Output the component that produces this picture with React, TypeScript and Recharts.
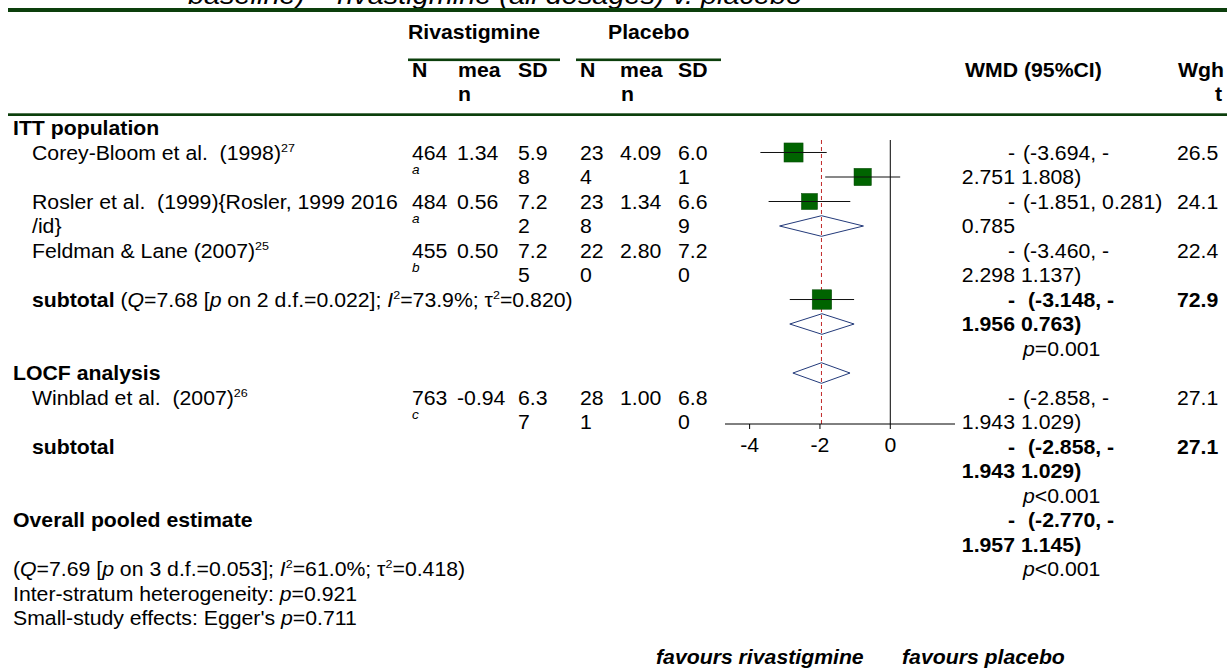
import React from "react";
import { ScatterChart, Scatter, XAxis, YAxis, ReferenceLine } from "recharts";

// ---- data ----
const studyNames = ["Corey-Bloom et al.  (1998)", "Rosler et al.  (1999){Rosler, 1999 2016", "Feldman & Lane (2007)", "Winblad et al.  (2007)"];
const studyRefs = ["27", "", "25", "26"];
const studyNameWrap = ["", "/id}", "", ""];
const footnotes = ["a", "a", "b", "c"];

const rivN = [464, 484, 455, 763];
const rivMean = [1.34, 0.56, 0.5, -0.94];
const rivSD = [5.98, 7.22, 7.25, 6.37];
const placN = [234, 238, 220, 281];
const placMean = [4.09, 1.34, 2.8, 1.0];
const placSD = [6.01, 6.69, 7.2, 6.8];

const wmd = [-2.751, -0.785, -2.298, -1.943];
const ciLow = [-3.694, -1.851, -3.46, -2.858];
const ciHigh = [-1.808, 0.281, -1.137, -1.029];
const weights = [26.5, 24.1, 22.4, 27.1];

// pooled: ITT subtotal, LOCF subtotal, overall
const pooledWmd = [-1.956, -1.943, -1.957];
const pooledLow = [-3.148, -2.858, -2.77];
const pooledHigh = [-0.763, -1.029, -1.145];
const pooledWeight = ["72.9", "27.1", ""];
const pooledP = ["=0.001", "<0.001", "<0.001"];

const hetQ = ["7.68", "7.69"];
const hetDf = ["2", "3"];
const hetP = ["0.022", "0.053"];
const hetI2 = ["73.9", "61.0"];
const hetTau2 = ["0.820", "0.418"];

const xTicks = [-4, -2, 0];

// rows (text-line units) where the marks sit in the plot panel
const studyPlotRow = [1, 2, 3, 7];
const pooledPlotRow = [4, 8, 10];
// rows where the table text sits
const studyTextLine = [1, 3, 5, 11];
const pooledTextLine = [7, 13, 16];

const FONT = "'Liberation Sans', Arial, sans-serif";
const FS = 19.5;
const SX = 1.09;
const GREEN = "#0c3f0c";
const base = (j: number) => 135 + 24.5 * j;

type Seg = { t: string; b?: boolean; i?: boolean; sup?: boolean };

function T({ x, y, children, size = FS, bold, italic, anchor = "start" }: any) {
  return (
    <text
      transform={`translate(${x},${y}) scale(${SX},1)`}
      fontSize={size}
      fontFamily={FONT}
      fontWeight={bold ? "bold" : "normal"}
      fontStyle={italic ? "italic" : "normal"}
      textAnchor={anchor}
      fill="#000"
      style={{ whiteSpace: "pre" }}
    >
      {children}
    </text>
  );
}

function Rich({ x, y, segs, bold }: { x: number; y: number; segs: Seg[]; bold?: boolean }) {
  let up = false;
  return (
    <text
      transform={`translate(${x},${y}) scale(${SX},1)`}
      fontSize={FS}
      fontFamily={FONT}
      fontWeight={bold ? "bold" : "normal"}
      fill="#000"
      style={{ whiteSpace: "pre" }}
    >
      {segs.map((s, k) => {
        let dy: number | undefined;
        if (s.sup && !up) {
          dy = -8;
          up = true;
        } else if (!s.sup && up) {
          dy = 8;
          up = false;
        }
        return (
          <tspan
            key={k}
            dy={dy}
            fontWeight={s.b ? "bold" : undefined}
            fontStyle={s.i ? "italic" : undefined}
            fontSize={s.sup ? 11.5 : undefined}
          >
            {s.t}
          </tspan>
        );
      })}
    </text>
  );
}

const hetSegs = (k: number): Seg[] => [
  { t: "(" },
  { t: "Q", i: true },
  { t: `=${hetQ[k]} [` },
  { t: "p", i: true },
  { t: ` on ${hetDf[k]} d.f.=${hetP[k]}]; ` },
  { t: "I", i: true },
  { t: "2", sup: true },
  { t: `=${hetI2[k]}%; τ` },
  { t: "2", sup: true },
  { t: `=${hetTau2[k]})` },
];

function WmdCell({ line, est, lo, hi, bold }: any) {
  const ciX = bold ? 1028 : 1023;
  const two = hi < 0;
  return (
    <g>
      <T x={1015} y={base(line)} anchor="end" bold={bold}>-</T>
      <T x={1015} y={base(line + 1)} anchor="end" bold={bold}>{Math.abs(est).toFixed(3)}</T>
      <T x={ciX} y={base(line)} bold={bold}>
        {two ? `(${lo.toFixed(3)}, -` : `(${lo.toFixed(3)}, ${hi.toFixed(3)})`}
      </T>
      {two && (
        <T x={1021} y={base(line + 1)} bold={bold}>{`${Math.abs(hi).toFixed(3)})`}</T>
      )}
    </g>
  );
}

const colX = [412, 457, 518, 580, 620, 678];

function Overlay() {
  return (
    <svg width={1227} height={670} style={{ position: "absolute", left: 0, top: 0, pointerEvents: "none" }}>
      {/* title + header rules */}
      <T x={188} y={4} size={26.5} italic>baseline) – rivastigmine (all dosages) v. placebo</T>
      <rect x={8} y={8} width={1219} height={4} fill={GREEN} />
      <T x={408} y={39} bold>Rivastigmine</T>
      <T x={608} y={39} bold>Placebo</T>
      <rect x={408} y={58.5} width={152} height={2.6} fill={GREEN} />
      <rect x={576} y={58.5} width={145} height={2.6} fill={GREEN} />
      {["N", "mea", "SD", "N", "mea", "SD"].map((h, k) => (
        <T key={k} x={colX[k] + (k === 1 ? 1 : 0)} y={77} bold>{h}</T>
      ))}
      <T x={458} y={101} bold>n</T>
      <T x={621} y={101} bold>n</T>
      <T x={965} y={77} bold>WMD (95%CI)</T>
      <T x={1178} y={77} bold>Wgh</T>
      <T x={1222} y={101} bold anchor="end">t</T>
      <rect x={8} y={113.3} width={1219} height={2.7} fill={GREEN} />

      {/* strata */}
      <T x={13} y={base(0)} bold>ITT population</T>
      <T x={13} y={base(10)} bold>LOCF analysis</T>
      <T x={13} y={base(16)} bold>Overall pooled estimate</T>

      {studyNames.map((name, i) => {
        const L = studyTextLine[i];
        const sd1 = rivSD[i].toFixed(2);
        const sd2 = placSD[i].toFixed(2);
        const n2 = String(placN[i]);
        return (
          <g key={name}>
            <Rich x={32} y={base(L)} segs={studyRefs[i] ? [{ t: name }, { t: studyRefs[i], sup: true }] : [{ t: name }]} />
            {studyNameWrap[i] && <T x={32} y={base(L + 1)}>{studyNameWrap[i]}</T>}
            <T x={colX[0]} y={base(L)}>{String(rivN[i])}</T>
            <T x={colX[0]} y={base(L) + 14} size={12.5} italic>{footnotes[i]}</T>
            <T x={colX[1]} y={base(L)}>{rivMean[i].toFixed(2)}</T>
            <T x={colX[2]} y={base(L)}>{sd1.slice(0, 3)}</T>
            <T x={colX[2]} y={base(L + 1)}>{sd1.slice(3)}</T>
            <T x={colX[3]} y={base(L)}>{n2.slice(0, 2)}</T>
            <T x={colX[3]} y={base(L + 1)}>{n2.slice(2)}</T>
            <T x={colX[4]} y={base(L)}>{placMean[i].toFixed(2)}</T>
            <T x={colX[5]} y={base(L)}>{sd2.slice(0, 3)}</T>
            <T x={colX[5]} y={base(L + 1)}>{sd2.slice(3)}</T>
            <WmdCell line={L} est={wmd[i]} lo={ciLow[i]} hi={ciHigh[i]} />
            <T x={1177} y={base(L)}>{weights[i].toFixed(1)}</T>
          </g>
        );
      })}

      <Rich x={32} y={base(7)} segs={[{ t: "subtotal", b: true }, { t: " " }, ...hetSegs(0)]} />
      <T x={32} y={base(13)} bold>subtotal</T>
      <Rich x={13} y={base(18)} segs={hetSegs(1)} />
      <Rich x={13} y={base(19)} segs={[{ t: "Inter-stratum heterogeneity: " }, { t: "p", i: true }, { t: "=0.921" }]} />
      <Rich x={13} y={base(20)} segs={[{ t: "Small-study effects: Egger's " }, { t: "p", i: true }, { t: "=0.711" }]} />

      {pooledWmd.map((est, k) => {
        const L = pooledTextLine[k];
        return (
          <g key={k}>
            <WmdCell line={L} est={est} lo={pooledLow[k]} hi={pooledHigh[k]} bold />
            {pooledWeight[k] && <T x={1177} y={base(L)} bold>{pooledWeight[k]}</T>}
            <Rich x={1023} y={base(L + 2)} segs={[{ t: "p", i: true }, { t: pooledP[k] }]} />
          </g>
        );
      })}

      <T x={656} y={664} bold italic>favours rivastigmine</T>
      <T x={902} y={664} bold italic>favours placebo</T>
    </svg>
  );
}

const Empty = () => <g />;

const SquareShape = (p: any) => {
  const s = p.payload.w * 0.72;
  return <rect x={p.cx - s / 2} y={p.cy - s / 2} width={s} height={s} fill="#006400" stroke="#0a4a0a" strokeWidth={0.5} />;
};

const AxisTick = (p: any) => (
  <T x={p.x} y={p.y + 21} anchor="middle">{String(p.payload.value)}</T>
);

const DIAMOND_H = 0.42;

export default function App() {
  const squares = wmd.map((v, i) => ({ x: v, y: studyPlotRow[i], w: weights[i] }));
  return (
    <div style={{ position: "absolute", left: 0, top: 0, width: 1227, height: 670, background: "#fff" }}>
      <ScatterChart width={1227} height={670} margin={{ top: 140, right: 272, bottom: 216, left: 725 }}>
        <XAxis
          type="number"
          dataKey="x"
          domain={[-4.7, 1.84]}
          ticks={xTicks}
          allowDataOverflow
          height={30}
          tickSize={5}
          tick={<AxisTick />}
          axisLine={{ stroke: "#000" }}
          tickLine={{ stroke: "#000" }}
        />
        <YAxis type="number" dataKey="y" domain={[0.49, 12.08]} reversed hide allowDataOverflow />
        <ReferenceLine x={0} stroke="#000" strokeWidth={1} />
        <ReferenceLine x={pooledWmd[2]} stroke="#c02828" strokeDasharray="4 3" strokeWidth={1} />
        <Scatter data={squares} shape={SquareShape} isAnimationActive={false} />
        {ciLow.map((lo, i) => (
          <Scatter
            key={"ci" + i}
            data={[
              { x: lo, y: studyPlotRow[i] },
              { x: ciHigh[i], y: studyPlotRow[i] },
            ]}
            line={{ stroke: "#111", strokeWidth: 1 }}
            shape={Empty}
            isAnimationActive={false}
          />
        ))}
        {pooledWmd.map((est, k) => {
          const r = pooledPlotRow[k];
          return (
            <Scatter
              key={"d" + k}
              data={[
                { x: pooledLow[k], y: r },
                { x: est, y: r + DIAMOND_H },
                { x: pooledHigh[k], y: r },
                { x: est, y: r - DIAMOND_H },
                { x: pooledLow[k], y: r },
              ]}
              line={{ stroke: "#233a7a", strokeWidth: 1 }}
              fill="none"
              shape={Empty}
              isAnimationActive={false}
            />
          );
        })}
      </ScatterChart>
      <Overlay />
    </div>
  );
}
